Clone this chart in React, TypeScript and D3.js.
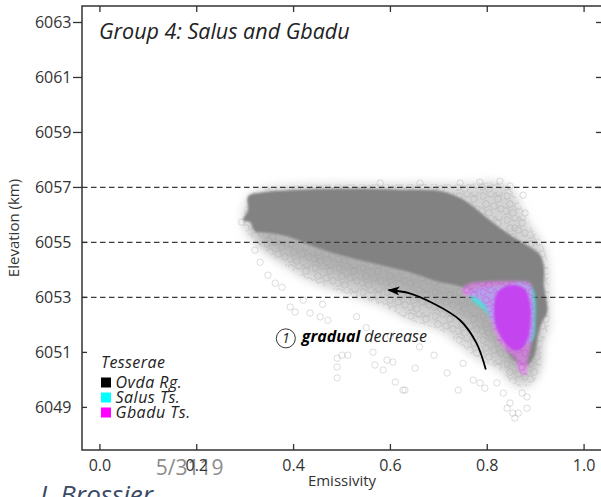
import React from "react";
import * as d3 from "d3";

// Axis ticks and reference levels
const emissivityTicks = [0.0, 0.2, 0.4, 0.6, 0.8, 1.0];
const elevationTicks = [6049, 6051, 6053, 6055, 6057, 6059, 6061, 6063];
const referenceLevels = [6053, 6055, 6057];

// Ovda Regio: densest part of the emissivity / elevation cloud (emissivity, km)
const ovdaCore: [number, number][] = [
  [0.306, 6056.68], [0.335, 6056.82], [0.413, 6056.92], [0.517, 6056.95],
  [0.62, 6056.92], [0.702, 6056.87], [0.744, 6056.62], [0.764, 6056.4],
  [0.806, 6055.8], [0.847, 6055.27], [0.888, 6054.83], [0.909, 6054.54],
  [0.917, 6054.1], [0.917, 6053.45], [0.924, 6052.47], [0.913, 6052.1],
  [0.905, 6051.63], [0.897, 6050.9], [0.88, 6050.5], [0.86, 6050.65],
  [0.843, 6051.0], [0.822, 6051.81], [0.802, 6052.54], [0.775, 6053.08],
  [0.748, 6053.38], [0.702, 6053.56], [0.64, 6053.92], [0.579, 6054.18],
  [0.496, 6054.54], [0.434, 6054.9], [0.393, 6055.19], [0.351, 6055.34],
  [0.32, 6055.41], [0.31, 6055.74], [0.296, 6055.8], [0.306, 6056.18],
];

// Ovda Regio: intermediate-density band just below the core
const ovdaMid: [number, number][] = [
  [0.33, 6055.5], [0.45, 6055.0], [0.6, 6054.4], [0.75, 6053.7],
  [0.84, 6053.0], [0.9, 6051.5], [0.9, 6050.7], [0.87, 6050.2],
  [0.83, 6050.8], [0.79, 6051.6], [0.74, 6052.3], [0.66, 6052.9],
  [0.56, 6053.4], [0.46, 6054.0], [0.38, 6054.6], [0.33, 6055.0],
];

// Ovda Regio: looser envelope around the core
const ovdaHalo: [number, number][] = [
  [0.295, 6055.74], [0.31, 6056.72], [0.335, 6056.93], [0.413, 6057.08],
  [0.62, 6057.12], [0.744, 6057.12], [0.826, 6057.16], [0.851, 6056.9],
  [0.868, 6056.36], [0.888, 6055.63], [0.919, 6054.72], [0.928, 6052.9],
  [0.926, 6051.81], [0.913, 6051.27], [0.909, 6050.36], [0.888, 6049.81],
  [0.857, 6049.81], [0.826, 6050.36], [0.785, 6050.72], [0.744, 6051.27],
  [0.702, 6051.81], [0.64, 6052.17], [0.579, 6052.72], [0.517, 6053.08],
  [0.455, 6053.45], [0.413, 6053.81], [0.372, 6054.28], [0.341, 6054.72],
  [0.32, 6055.08], [0.302, 6055.38],
];

// Ovda Regio: isolated samples outside the envelope
const ovdaOutliers: [number, number][] = [
  [0.376, 6053.37], [0.393, 6052.65], [0.403, 6052.47], [0.434, 6052.43],
  [0.455, 6052.29], [0.471, 6052.17], [0.49, 6050.79], [0.5, 6050.9],
  [0.512, 6050.9], [0.49, 6050.47], [0.49, 6050.07], [0.517, 6051.56],
  [0.564, 6051.01], [0.568, 6050.54], [0.585, 6050.36], [0.605, 6050.65],
  [0.61, 6049.92], [0.626, 6049.63], [0.593, 6050.72], [0.651, 6050.43],
  [0.63, 6049.63], [0.717, 6050.25], [0.74, 6049.63], [0.771, 6049.99],
  [0.785, 6049.89], [0.795, 6049.7], [0.82, 6049.89], [0.833, 6049.52],
  [0.847, 6049.16], [0.841, 6048.97], [0.853, 6048.79], [0.864, 6048.79],
  [0.882, 6048.97], [0.882, 6049.38], [0.872, 6049.52], [0.857, 6048.61],
  [0.874, 6056.72], [0.878, 6056.07], [0.857, 6055.52], [0.847, 6057.05],
  [0.785, 6057.19], [0.826, 6057.23], [0.744, 6057.16], [0.661, 6057.16],
  [0.579, 6057.16], [0.293, 6055.74], [0.32, 6054.72], [0.331, 6054.28],
  [0.347, 6053.81], [0.362, 6053.52], [0.42, 6052.9], [0.46, 6052.75],
  [0.53, 6052.3], [0.55, 6051.9], [0.6, 6051.6], [0.66, 6051.2],
  [0.69, 6050.9], [0.75, 6050.6],
];

// Salus Tesserae
const salusRegion: [number, number][] = [
  [0.764, 6053.19], [0.785, 6053.34], [0.826, 6053.41], [0.878, 6053.52],
  [0.895, 6053.27], [0.899, 6052.17], [0.893, 6051.45], [0.868, 6051.27],
  [0.837, 6051.45], [0.816, 6051.99], [0.795, 6052.54], [0.769, 6052.9],
];

// Gbadu Tesserae: outer spread and dense centre
const gbaduHalo: [number, number][] = [
  [0.748, 6053.27], [0.76, 6053.48], [0.785, 6053.56], [0.826, 6053.59],
  [0.868, 6053.59], [0.888, 6053.52], [0.895, 6052.9], [0.895, 6051.81],
  [0.89, 6051.27], [0.884, 6050.72], [0.88, 6050.17], [0.868, 6050.28],
  [0.857, 6050.79], [0.837, 6051.09], [0.822, 6051.45], [0.81, 6051.99],
  [0.795, 6052.72], [0.775, 6053.01], [0.754, 6053.08],
];
const gbaduCore: [number, number][] = [
  [0.82, 6053.15], [0.837, 6053.4], [0.857, 6053.45], [0.878, 6053.3],
  [0.889, 6052.72], [0.889, 6051.99], [0.883, 6051.45], [0.868, 6051.1],
  [0.853, 6051.1], [0.835, 6051.4], [0.818, 6051.95], [0.814, 6052.72],
];

// Trend arrow, drawn from its tail to its head
const trendArrow: [number, number][] = [
  [0.797, 6050.38], [0.778, 6051.33], [0.744, 6052.17], [0.689, 6052.78],
  [0.64, 6053.15], [0.596, 6053.27],
];

const legendTitle = "Tesserae";
const legendItems = [
  { label: "Ovda Rg.", color: "#000000" },
  { label: "Salus Ts.", color: "#00ffff" },
  { label: "Gbadu Ts.", color: "#ff00ff" },
];

// Irregular ring texture used to suggest overlapping open markers
const ringOffsets: [number, number][] = [
  [3, 4], [11, 2], [18, 7], [6, 12], [14, 14], [21, 17], [2, 19], [9, 21], [19, 1],
];

const W = 601;
const H = 497;
const FONT = "'Open Sans', 'DejaVu Sans', sans-serif";

export default function App() {
  const x = d3.scaleLinear().domain([-0.037, 1.037]).range([82, 602]);
  const y = d3.scaleLinear().domain([6047.45, 6063.6]).range([450, 6]);

  const area = d3
    .line<[number, number]>()
    .x((d) => x(d[0]))
    .y((d) => y(d[1]))
    .curve(d3.curveCatmullRomClosed.alpha(0.5));
  const arrowLine = d3
    .line<[number, number]>()
    .x((d) => x(d[0]))
    .y((d) => y(d[1]))
    .curve(d3.curveCatmullRom.alpha(0.5));

  const [x0, x1] = x.range();
  const [yb, yt] = y.range();

  return (
    <svg
      width={W}
      height={H}
      style={{ position: "absolute", left: 0, top: 0, display: "block", background: "#fff" }}
      fontFamily={FONT}
    >
      <defs>
        <filter id="soft1" x="-10%" y="-10%" width="120%" height="120%">
          <feGaussianBlur stdDeviation="1.2" />
        </filter>
        <filter id="soft2" x="-10%" y="-10%" width="120%" height="120%">
          <feGaussianBlur stdDeviation="1.8" />
        </filter>
        <filter id="soft5" x="-20%" y="-20%" width="140%" height="140%">
          <feGaussianBlur stdDeviation="5" />
        </filter>
        <filter id="soft7" x="-20%" y="-20%" width="140%" height="140%">
          <feGaussianBlur stdDeviation="7" />
        </filter>
        <pattern id="rings" width="24" height="24" patternUnits="userSpaceOnUse">
          {ringOffsets.map(([cx, cy], i) => (
            <circle key={i} cx={cx} cy={cy} r={3.3} fill="none" stroke="#7a7a7a" strokeWidth={0.8} />
          ))}
        </pattern>
        <pattern id="rings-m" width="24" height="24" patternUnits="userSpaceOnUse">
          {ringOffsets.map(([cx, cy], i) => (
            <circle key={i} cx={cx} cy={cy} r={3.3} fill="none" stroke="#d23fe6" strokeWidth={0.9} />
          ))}
        </pattern>
        <marker
          id="head"
          viewBox="0 0 12 9"
          refX="11"
          refY="4.5"
          markerWidth="12"
          markerHeight="9"
          markerUnits="userSpaceOnUse"
          orient="auto"
        >
          <path d="M0,0 L12,4.5 L0,9 L3,4.5 Z" fill="#000" />
        </marker>
        <clipPath id="plot">
          <rect x={x0} y={yt} width={x1 - x0} height={yb - yt} />
        </clipPath>
      </defs>

      {/* footer lines under the plot */}
      <text x={155.7} y={475} fontSize={21} fill="#8c8c8c">
        5/3119
      </text>
      <text x={40} y={504} fontSize={26} fontStyle="italic" fill="#3a4a64">
        J. Brossier
      </text>

      <g clipPath="url(#plot)">
        {/* Ovda Regio */}
        <path d={area(ovdaHalo) ?? ""} fill="#b0b0b0" opacity={0.55} filter="url(#soft5)" />
        <path d={area(ovdaHalo) ?? ""} fill="url(#rings)" opacity={0.3} />
        <path d={area(ovdaMid) ?? ""} fill="#959595" opacity={0.6} filter="url(#soft7)" />
        {ovdaOutliers.map((d, i) => (
          <circle
            key={i}
            cx={x(d[0])}
            cy={y(d[1])}
            r={3.2}
            fill="none"
            stroke="#a0a0a0"
            strokeWidth={0.8}
            opacity={0.45}
          />
        ))}
        <path d={area(ovdaCore) ?? ""} fill="#828282" filter="url(#soft1)" />

        {/* reference elevations */}
        {referenceLevels.map((v) => (
          <line
            key={v}
            x1={x0}
            x2={x1}
            y1={y(v)}
            y2={y(v)}
            stroke="#3a3a3a"
            strokeWidth={1.2}
            strokeDasharray="5.5,3.5"
          />
        ))}

        {/* Salus and Gbadu */}
        <path d={area(salusRegion) ?? ""} fill="#3ee6e6" opacity={0.85} filter="url(#soft2)" />
        <path d={area(gbaduHalo) ?? ""} fill="#e48af0" opacity={0.7} filter="url(#soft2)" />
        <path d={area(gbaduHalo) ?? ""} fill="url(#rings-m)" opacity={0.5} />
        <path d={area(gbaduCore) ?? ""} fill="#c444f0" filter="url(#soft1)" />

        {/* trend annotation */}
        <path
          d={arrowLine(trendArrow) ?? ""}
          fill="none"
          stroke="#000"
          strokeWidth={1.8}
          markerEnd="url(#head)"
        />
      </g>

      <circle cx={x(0.384)} cy={y(6051.51)} r={9.5} fill="#fff" stroke="#333" strokeWidth={1} />
      <text
        x={x(0.384)}
        y={y(6051.51) + 5}
        textAnchor="middle"
        fontSize={14}
        fontStyle="italic"
        fill="#222"
      >
        1
      </text>
      <text x={x(0.417)} y={y(6051.39)} fontSize={16} fontStyle="italic" fill="#222">
        <tspan fontWeight="bold" fill="#000">gradual</tspan>
        <tspan> decrease</tspan>
      </text>

      {/* frame */}
      <rect x={x0} y={yt} width={x1 - x0} height={yb - yt} fill="none" stroke="#333" strokeWidth={1.5} />

      {/* x ticks, bottom and top, inward */}
      {emissivityTicks.map((t) => (
        <g key={t}>
          <line x1={x(t)} x2={x(t)} y1={yb} y2={yb - 6} stroke="#333" strokeWidth={1.3} />
          <line x1={x(t)} x2={x(t)} y1={yt} y2={yt + 6} stroke="#333" strokeWidth={1.3} />
          <text x={x(t)} y={470.5} textAnchor="middle" fontSize={16} fill="#333">
            {d3.format(".1f")(t)}
          </text>
        </g>
      ))}

      {/* y ticks */}
      {elevationTicks.map((t) => (
        <g key={t}>
          {t >= 6057 ? (
            <line x1={x0 - 9} x2={x0} y1={y(t)} y2={y(t)} stroke="#333" strokeWidth={1.3} />
          ) : (
            <line x1={x0} x2={x0 + 5} y1={y(t)} y2={y(t)} stroke="#333" strokeWidth={1.3} />
          )}
          <line x1={x1 - 6} x2={x1} y1={y(t)} y2={y(t)} stroke="#333" strokeWidth={1.3} />
          <text x={71.5} y={y(t) + 5.8} textAnchor="end" fontSize={16} fill="#333">
            {t}
          </text>
        </g>
      ))}

      <text x={(x0 + x1) / 2} y={486} textAnchor="middle" fontSize={15} fill="#333">
        Emissivity
      </text>
      <text
        transform={`translate(19, ${(yt + yb) / 2}) rotate(-90)`}
        textAnchor="middle"
        fontSize={15}
        fill="#333"
      >
        Elevation (km)
      </text>

      <text x={99} y={38.5} fontSize={21.5} fontStyle="italic" fill="#222">
        Group 4: Salus and Gbadu
      </text>

      {/* legend */}
      <text x={101} y={368.3} fontSize={16} fontStyle="italic" fill="#222" letterSpacing={0.4}>
        {legendTitle}
      </text>
      {legendItems.map((d, i) => (
        <g key={d.label}>
          <rect x={101} y={377.5 + i * 15} width={10} height={10} fill={d.color} />
          <text
            x={115.5}
            y={387.5 + i * 15}
            fontSize={16}
            fontStyle="italic"
            fill="#222"
            letterSpacing={0.5}
          >
            {d.label}
          </text>
        </g>
      ))}
    </svg>
  );
}
